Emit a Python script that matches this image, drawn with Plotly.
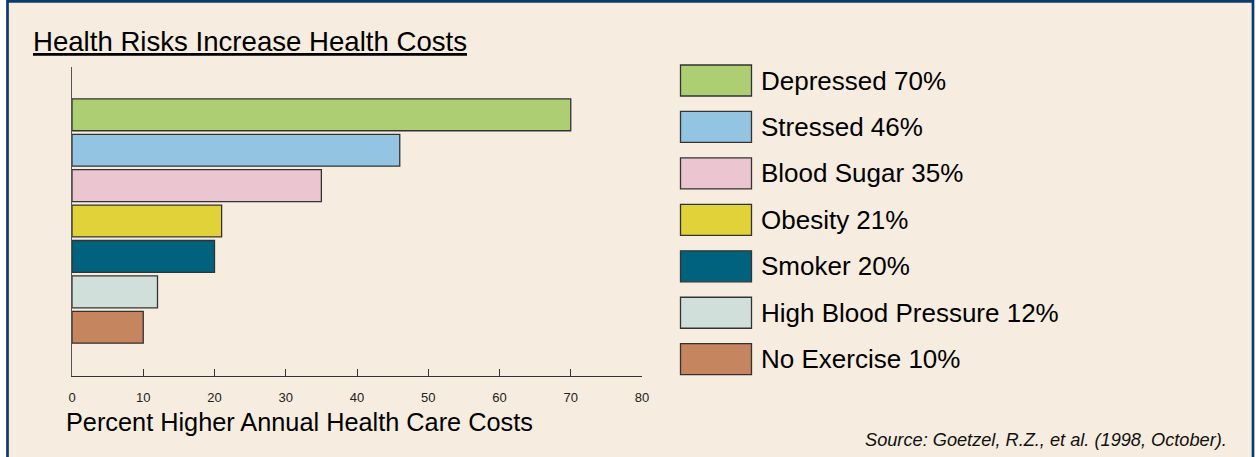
import plotly.graph_objects as go

# ---- data ----
categories = ["Depressed", "Stressed", "Blood Sugar", "Obesity", "Smoker",
              "High Blood Pressure", "No Exercise"]
values = [70, 46, 35, 21, 20, 12, 10]
bar_colors = ["#AECE74", "#93C5E3", "#EBC5D0", "#E2D23A", "#00627C",
              "#D0DFDA", "#C5855E"]
x_ticks = [0, 10, 20, 30, 40, 50, 60, 70, 80]
title_text = "Health Risks Increase Health Costs"
x_title = "Percent Higher Annual Health Care Costs"
source_text = "Source: Goetzel, R.Z., et al. (1998, October)."

# ---- geometry (pixels) ----
W, H = 1256, 457
ML, MR, MT, MB = 72, 614, 67, 81
PW = W - ML - MR
PH = H - MT - MB


def px(x):
    return (x - ML) / PW


def py(y):
    return (H - MB - y) / PH


FONT = "Liberation Sans, Arial, sans-serif"
BG = "#F6ECDF"

fig = go.Figure()
fig.add_trace(go.Bar(
    x=values,
    y=categories,
    orientation="h",
    marker=dict(color=bar_colors, line=dict(color="#333333", width=1.3)),
    width=0.9,
    showlegend=False,
    hoverinfo="x+y",
))

shapes = []
annotations = []

# frame
shapes.append(dict(type="rect", xref="paper", yref="paper",
                   x0=px(7.5), x1=px(1253), y0=py(459), y1=py(1.3),
                   fillcolor=BG, line=dict(color="#0B3B6E", width=2.7),
                   layer="below"))

# legend swatches + labels
top0, pitch, bh, bx0, bx1 = 65, 46.45, 31, 680.5, 751.5
for i, (cat, val, col) in enumerate(zip(categories, values, bar_colors)):
    t = top0 + i * pitch
    shapes.append(dict(type="rect", xref="paper", yref="paper",
                       x0=px(bx0), x1=px(bx1), y0=py(t + bh), y1=py(t),
                       fillcolor=col, line=dict(color="#333333", width=1.3)))
    annotations.append(dict(xref="paper", yref="paper", x=px(759), y=py(t + bh / 2),
                            xanchor="left", yanchor="middle", showarrow=False,
                            text=f"{cat} {val}%",
                            font=dict(family=FONT, size=26, color="#000000")))

# title
annotations.append(dict(xref="paper", yref="paper", x=px(31), y=py(42),
                        xanchor="left", yanchor="middle", showarrow=False,
                        text=f"<u>{title_text}</u>",
                        font=dict(family=FONT, size=27.6, color="#000000")))
# x axis title
annotations.append(dict(xref="paper", yref="paper", x=px(64), y=py(422),
                        xanchor="left", yanchor="middle", showarrow=False,
                        text=x_title,
                        font=dict(family=FONT, size=25.3, color="#000000")))
# source
annotations.append(dict(xref="paper", yref="paper", x=px(1229), y=py(440),
                        xanchor="right", yanchor="middle", showarrow=False,
                        text=f"<i>{source_text}</i>",
                        font=dict(family=FONT, size=18.2, color="#111111")))

fig.update_layout(
    width=W, height=H,
    margin=dict(l=ML, r=MR, t=MT, b=MB, pad=0),
    paper_bgcolor="#FFFFFF",
    plot_bgcolor="rgba(0,0,0,0)",
    shapes=shapes,
    annotations=annotations,
    xaxis=dict(range=[0, 80], tickvals=x_ticks, ticks="inside", ticklen=7,
               tickcolor="#333333", tickwidth=1.3, showline=True,
               linecolor="#333333", linewidth=1.3, showgrid=False,
               zeroline=False, fixedrange=True, ticklabelstandoff=9,
               tickfont=dict(family=FONT, size=13, color="#222222")),
    yaxis=dict(categoryorder="array", categoryarray=list(reversed(categories)),
               range=[-1.376, 7.35], showline=True, linecolor="#555555",
               linewidth=1.3, showticklabels=False, ticks="", showgrid=False,
               zeroline=False, fixedrange=True),
    bargap=0.1,
)

fig.write_html(
    "out.html",
    config={"displayModeBar": False},
    post_script="document.body.style.margin='0px';document.body.style.padding='0px';",
)
